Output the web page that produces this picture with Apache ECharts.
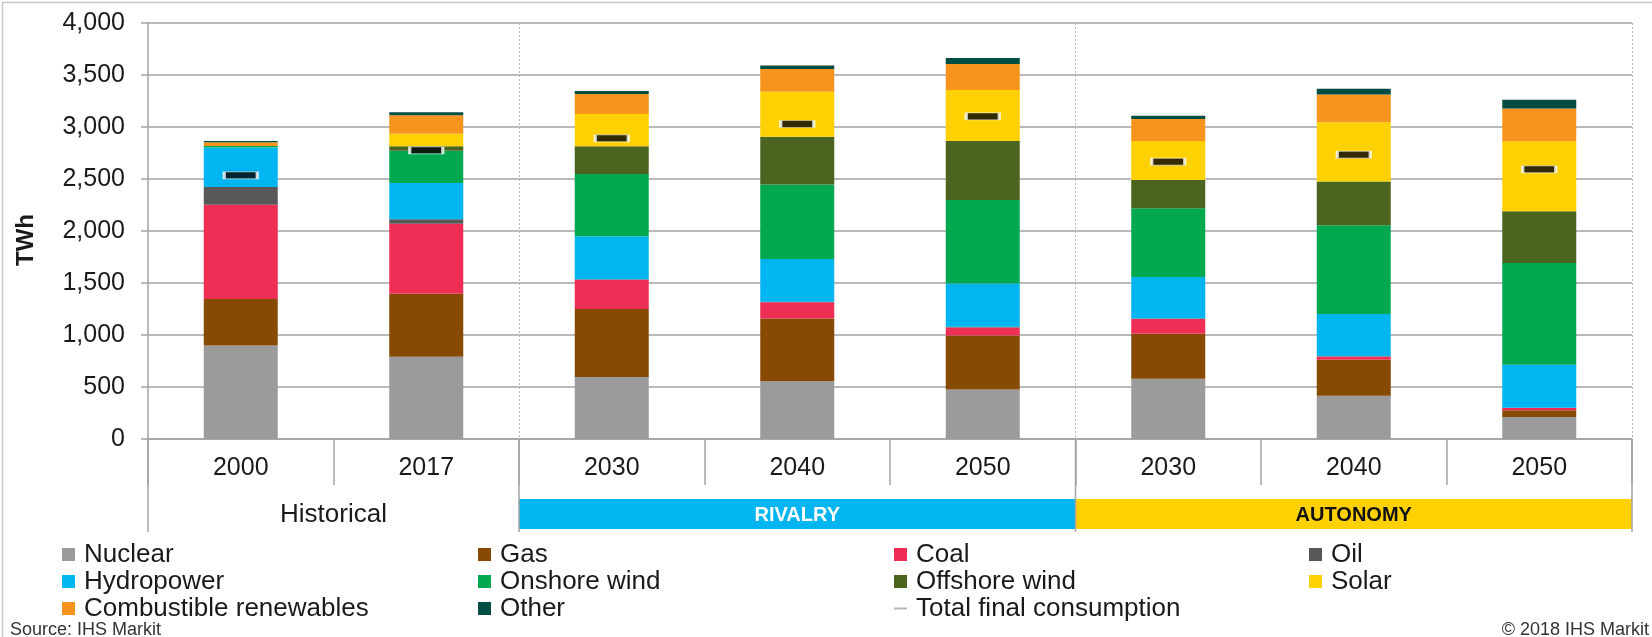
<!DOCTYPE html>
<html>
<head>
<meta charset="utf-8">
<style>
  html, body { margin: 0; padding: 0; background: #fff; }
  #chart { width: 1652px; height: 637px; }
</style>
<script src="https://cdn.jsdelivr.net/npm/echarts@6/dist/echarts.min.js"></script>
</head>
<body>
<div id="chart"></div>
<script>
// 类目与分组
const years = ['2000', '2017', '2030', '2040', '2050', '2030', '2040', '2050'];
const groupNames = ['Historical', 'RIVALRY', 'AUTONOMY'];
const groupStart = [0, 2, 5];
const groupEnd = [1, 4, 7];
const groupColors = [null, '#00b5f0', '#ffd100'];
const groupTextColors = ['#1a1a1a', '#ffffff', '#111111'];

// 发电量 (TWh)，自下而上堆叠
const nuclear = [900, 790, 595, 555, 475, 580, 415, 212];
const gas = [445, 607, 655, 603, 520, 433, 346, 64];
const coal = [907, 673, 282, 157, 76, 141, 32, 22];
const oil = [170, 42, 5, 5, 8, 4, 3, 3];
const hydro = [381, 349, 412, 410, 415, 400, 407, 414];
const onshore = [15, 311, 599, 718, 805, 660, 853, 977];
const offshore = [0, 42, 266, 458, 567, 272, 419, 497];
const solar = [0, 122, 311, 433, 490, 375, 571, 673];
const combustible = [35, 176, 192, 218, 250, 212, 266, 317];
const other = [12, 29, 29, 35, 58, 32, 55, 84];
const totalConsumption = [2535, 2776, 2891, 3029, 3102, 2667, 2734, 2593];

const stackSeries = [
  { name: 'Nuclear', data: nuclear, color: '#9b9b9b' },
  { name: 'Gas', data: gas, color: '#874a03' },
  { name: 'Coal', data: coal, color: '#ee2e55' },
  { name: 'Oil', data: oil, color: '#58585a' },
  { name: 'Hydropower', data: hydro, color: '#00b5f0' },
  { name: 'Onshore wind', data: onshore, color: '#00a94f' },
  { name: 'Offshore wind', data: offshore, color: '#4b6520' },
  { name: 'Solar', data: solar, color: '#ffd100' },
  { name: 'Combustible renewables', data: combustible, color: '#f7941e' },
  { name: 'Other', data: other, color: '#004d44' }
];

const FONT = "'Liberation Sans', Arial, sans-serif";
const GRID_GREY = '#a3a3a3';
const dashIcon = 'path://M0,0 M0,5.5 L13,5.5 L13,7.5 L0,7.5 Z M13,13';

const chart = echarts.init(document.getElementById('chart'), null, { renderer: 'canvas' });

const series = stackSeries.map(s => ({
  name: s.name,
  type: 'bar',
  stack: 'gen',
  barWidth: 74,
  data: s.data,
  itemStyle: { color: s.color },
  emphasis: { disabled: true }
}));

series.push({
  name: 'Total final consumption',
  type: 'scatter',
  data: totalConsumption,
  symbol: 'rect',
  symbolSize: [33, 7],
  itemStyle: { color: '#000', borderColor: '#fff', borderWidth: 1.5 },
  z: 5
});

// 分组色带与分隔线
series.push({
  name: 'groups',
  type: 'custom',
  data: groupNames.map((g, i) => [groupStart[i], groupEnd[i], 0]),
  encode: { x: [0, 1], y: 2 },
  silent: true,
  z: 1,
  renderItem: function (params, api) {
    const idx = params.dataIndex;
    const bw = api.size([1, 0])[0];
    const p0 = api.coord([api.value(0), 0]);
    const p1 = api.coord([api.value(1), 0]);
    const x0 = p0[0] - bw / 2;
    const x1 = p1[0] + bw / 2;
    const y0 = p0[1];
    const children = [];
    if (groupColors[idx]) {
      children.push({
        type: 'rect',
        shape: { x: x0, y: y0 + 60, width: x1 - x0, height: 30 },
        style: { fill: groupColors[idx] }
      });
    }
    children.push({
      type: 'line',
      shape: { x1: x0, y1: y0, x2: x0, y2: y0 + 93 },
      style: { stroke: GRID_GREY, lineWidth: 1.5 }
    });
    if (idx === groupNames.length - 1) {
      children.push({
        type: 'line',
        shape: { x1: x1, y1: y0, x2: x1, y2: y0 + 93 },
        style: { stroke: GRID_GREY, lineWidth: 1.5 }
      });
    }
    children.push({
      type: 'text',
      x: (x0 + x1) / 2,
      y: y0 + 76,
      style: {
        text: groupNames[idx],
        fill: groupTextColors[idx],
        font: idx === 0 ? '26px ' + FONT : 'bold 20px ' + FONT,
        align: 'center',
        verticalAlign: 'middle'
      }
    });
    return { type: 'group', children: children };
  }
});

function makeLegend(left, names) {
  return {
    orient: 'vertical',
    left: left,
    top: 536,
    itemWidth: 13,
    itemHeight: 13,
    itemGap: 0,
    icon: 'rect',
    selectedMode: true,
    textStyle: { fontSize: 26, lineHeight: 27, color: '#1a1a1a', fontFamily: FONT, padding: [0, 0, 0, 4] },
    data: names.map(n => n === 'Total final consumption'
      ? { name: n, icon: dashIcon, itemStyle: { color: '#a6a6a6', borderWidth: 0 } }
      : n)
  };
}

const option = {
  animation: false,
  backgroundColor: '#fff',
  textStyle: { fontFamily: FONT },
  grid: { left: 148, right: 20, top: 23, height: 416 },
  legend: [
    makeLegend(57, ['Nuclear', 'Hydropower', 'Combustible renewables']),
    makeLegend(473, ['Gas', 'Onshore wind', 'Other']),
    makeLegend(889, ['Coal', 'Offshore wind', 'Total final consumption']),
    makeLegend(1304, ['Oil', 'Solar'])
  ],
  xAxis: {
    type: 'category',
    data: years,
    axisLine: { lineStyle: { color: GRID_GREY, width: 1.5 } },
    axisTick: { show: true, length: 46, lineStyle: { color: GRID_GREY, width: 1.5 } },
    axisLabel: { fontSize: 25, color: '#1a1a1a', margin: 17, fontFamily: FONT },
    splitLine: {
      show: true,
      interval: function (index) { return index === 2 || index === 5; },
      lineStyle: { color: '#b5b5b5', type: [2, 2], width: 1 }
    }
  },
  yAxis: {
    type: 'value',
    min: 0,
    max: 4000,
    interval: 500,
    name: 'TWh',
    nameLocation: 'middle',
    nameGap: 110,
    nameTextStyle: { fontSize: 24, fontWeight: 'bold', color: '#1a1a1a', fontFamily: FONT, padding: [0, 18, 0, 0] },
    axisLine: { show: true, lineStyle: { color: GRID_GREY, width: 1.5 } },
    axisTick: { show: true, length: 7, lineStyle: { color: GRID_GREY, width: 1.5 } },
    axisLabel: {
      fontSize: 25,
      color: '#1a1a1a',
      margin: 23,
      fontFamily: FONT,
      formatter: v => v.toLocaleString('en-US')
    },
    splitLine: { lineStyle: { color: GRID_GREY, width: 1.5 } }
  },
  graphic: [
    {
      type: 'rect',
      left: 0, top: 0,
      shape: { width: 1651, height: 636 },
      style: { fill: null, stroke: '#c8c8c8', lineWidth: 1.5 },
      silent: true
    },
    {
      type: 'text',
      left: 10,
      top: 621,
      style: { text: 'Source: IHS Markit', font: '18px ' + FONT, fill: '#333' }
    },
    {
      type: 'text',
      right: 3,
      top: 621,
      style: { text: '© 2018 IHS Markit', font: '18px ' + FONT, fill: '#333' }
    }
  ],
  series: series
};

chart.setOption(option);
</script>
</body>
</html>
